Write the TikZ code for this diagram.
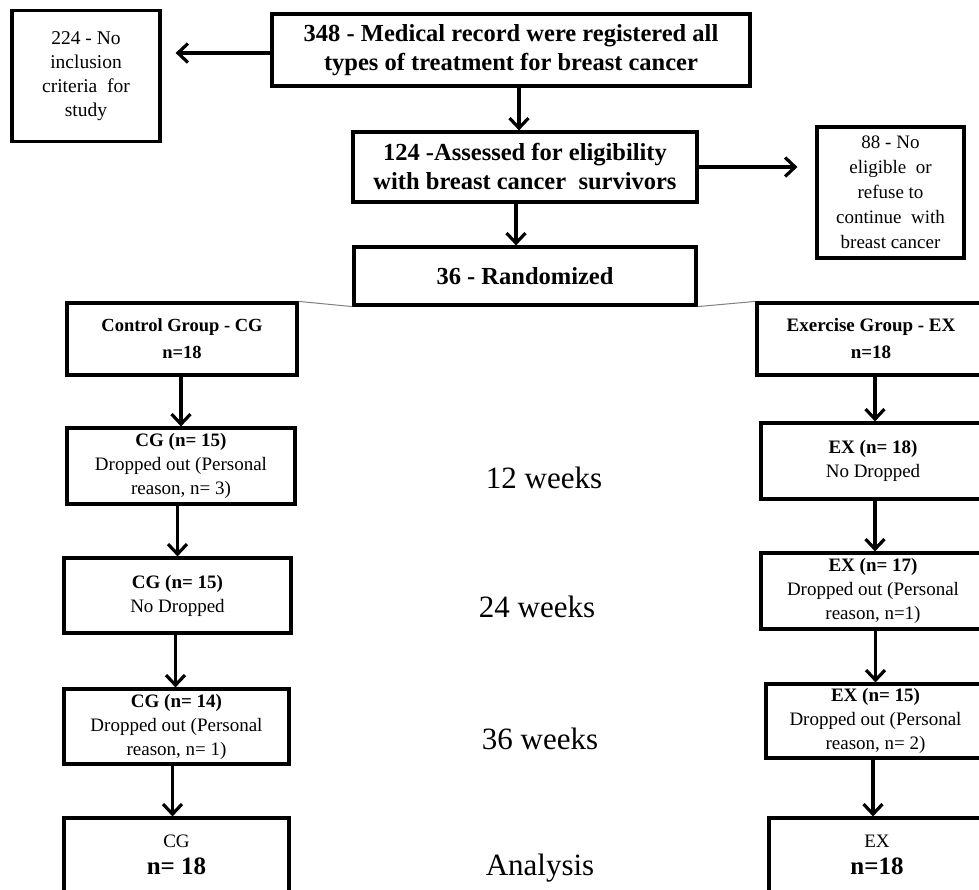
\documentclass[tikz,border=0pt]{standalone}
\usepackage{fontspec}
\setmainfont{Liberation Serif}
\usetikzlibrary{arrows.meta}
\begin{document}
\begin{tikzpicture}[x=1pt,y=-1pt,
  box/.style={draw,line width=3.2pt,align=center,inner sep=2pt,anchor=center},
  arr/.style={line width=3.2pt,-{Straight Barb[length=10pt,width=19pt,line width=3.2pt]}},
  bigtxt/.style={font=\fontsize{24.5}{29}\selectfont\bfseries},
  grptxt/.style={font=\fontsize{19}{24}\selectfont},
  weektxt/.style={font=\fontsize{31}{34}\selectfont}]
\useasboundingbox (0,0) rectangle (979,890);
\clip (0,0) rectangle (979,890);
% top section
\node[box,minimum width=148pt,minimum height=131pt,font=\fontsize{19.5}{24}\selectfont] (n224) at (86,76) {224 - No\\inclusion\\criteria\ \ for\\study};
\node[box,minimum width=478pt,minimum height=72pt,bigtxt] (n348) at (511,50) {348 - Medical record were registered all\\types of treatment for breast cancer};
\node[box,minimum width=344pt,minimum height=70pt,bigtxt] (n124) at (525,167) {124 -Assessed for eligibility\\with breast cancer\ \ survivors};
\node[box,minimum width=147pt,minimum height=131pt,font=\fontsize{19}{25}\selectfont] (n88) at (890.5,192.5) {88 - No\\eligible\ \ or\\refuse\ to\\continue\ \ with\\breast cancer};
\node[box,minimum width=342pt,minimum height=58pt,bigtxt] (rand) at (525,276) {36 - Randomized};
% control group column
\node[box,minimum width=230pt,minimum height=72pt,font=\fontsize{18.5}{27}\selectfont\bfseries] (cg1) at (182,339) {Control Group - CG\\n=18};
\node[box,minimum width=228pt,minimum height=76pt,grptxt] (cg2) at (181,466) {\textbf{CG (n= 15)}\\Dropped out (Personal\\reason, n= 3)};
\node[box,minimum width=227pt,minimum height=75pt,grptxt] (cg3) at (177.5,595.5) {\textbf{CG (n= 15)}\\No Dropped};
\node[box,minimum width=225pt,minimum height=75pt,grptxt] (cg4) at (176.5,726.5) {\textbf{CG (n= 14)}\\Dropped out (Personal\\reason, n= 1)};
\node[box,minimum width=225pt,minimum height=74pt,font=\fontsize{19}{27}\selectfont] (cg5) at (176.5,855) {CG\\\fontsize{25}{27}\selectfont\bfseries n= 18};
% exercise group column
\node[box,minimum width=228pt,minimum height=72pt,font=\fontsize{19}{27}\selectfont\bfseries] (ex1) at (871,339) {Exercise Group - EX\\n=18};
\node[box,minimum width=224pt,minimum height=76pt,grptxt] (ex2) at (873,461) {\textbf{EX (n= 18)}\\No Dropped};
\node[box,minimum width=224pt,minimum height=76pt,grptxt] (ex3) at (873,591) {\textbf{EX (n= 17)}\\Dropped out (Personal\\reason, n=1)};
\node[box,minimum width=219pt,minimum height=74pt,grptxt] (ex4) at (875.5,721) {\textbf{EX (n= 15)}\\Dropped out (Personal\\reason, n= 2)};
\node[box,minimum width=216pt,minimum height=74pt,font=\fontsize{19}{27}\selectfont] (ex5) at (877,855) {EX\\\fontsize{25}{27}\selectfont\bfseries n=18};
% time labels
\node[weektxt] (w12) at (544,478) {12 weeks};
\node[weektxt] (w24) at (537,607) {24 weeks};
\node[weektxt] (w36) at (540,739) {36 weeks};
\node[weektxt] (ana) at (540,868) {Analysis};
% connectors
\draw[arr,shorten >=14pt] ([yshift=-3pt]n348.west) -- ([yshift=-3pt]n348.west -| n224.east);
\draw[arr] ([xshift=-6pt]n124.north |- n348.south) -- ([xshift=-6pt]n124.north);
\draw[arr,shorten >=18pt] (n124.east) -- (n124.east -| n88.west);
\draw[arr] ([xshift=-9pt]rand.north |- n124.south) -- ([xshift=-9pt]rand.north);
\draw[gray,line width=1pt] (cg1.north east) -- (rand.south west);
\draw[gray,line width=1pt] (ex1.north west) -- (rand.south east);
\draw[arr] (cg2.north |- cg1.south) -- (cg2.north);
\draw[arr] ([xshift=2pt]ex2.north |- ex1.south) -- ([xshift=2pt]ex2.north);
\draw[arr] (cg3.north |- cg2.south) -- (cg3.north);
\draw[arr] ([xshift=2pt]ex3.north |- ex2.south) -- ([xshift=2pt]ex3.north);
\draw[arr] ([xshift=-1pt]cg4.north |- cg3.south) -- ([xshift=-1pt]cg4.north);
\draw[arr] (ex4.north |- ex3.south) -- (ex4.north);
\draw[arr] ([xshift=-4pt]cg5.north |- cg4.south) -- ([xshift=-4pt]cg5.north);
\draw[arr] ([xshift=-4pt]ex5.north |- ex4.south) -- ([xshift=-4pt]ex5.north);
\end{tikzpicture}
\end{document}
